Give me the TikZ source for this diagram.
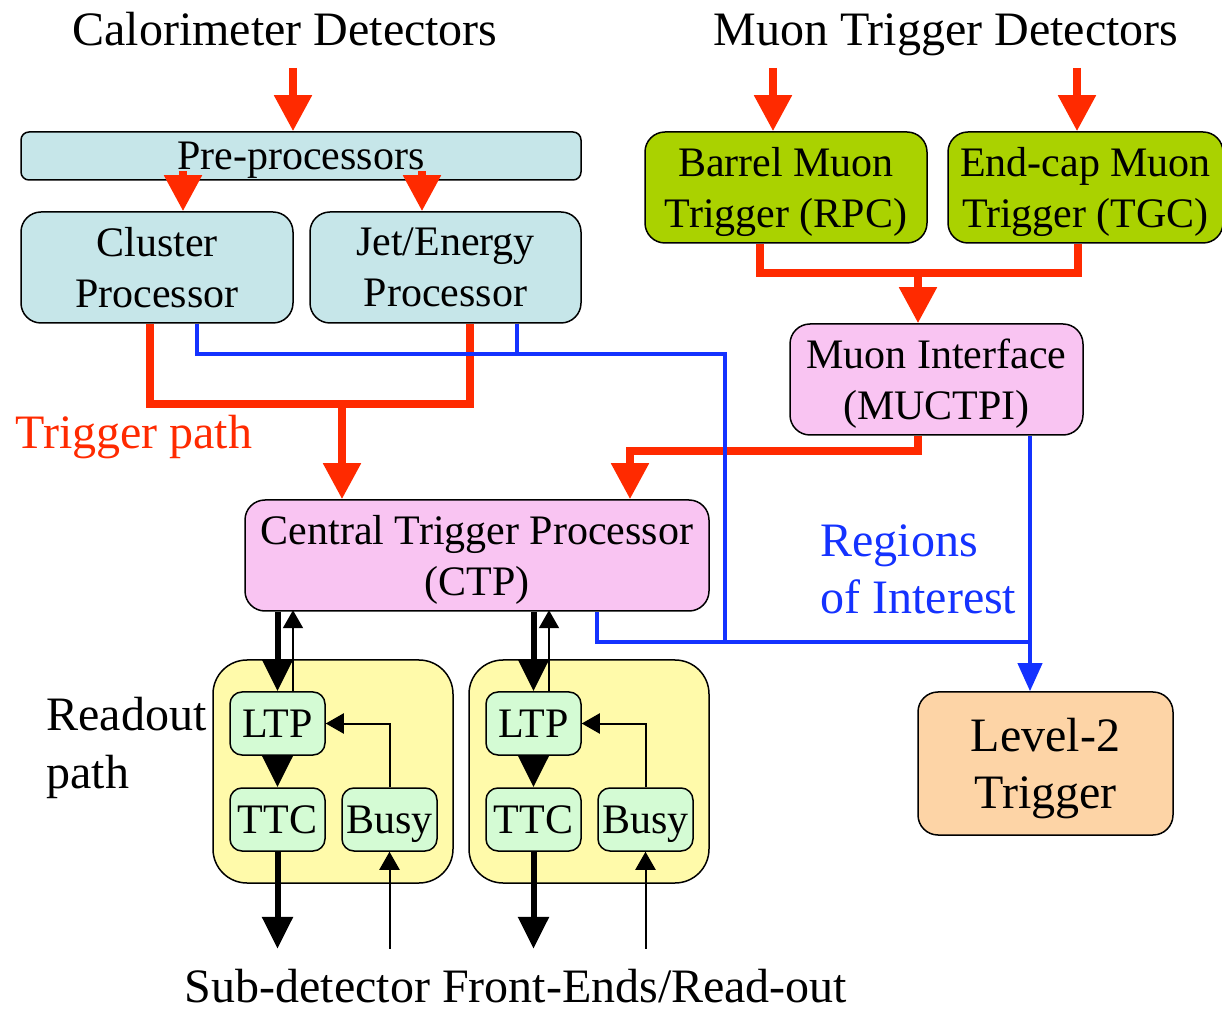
\documentclass[tikz,border=0pt]{standalone}
\usepackage{fontspec}
\setmainfont{Liberation Serif}
\usetikzlibrary{arrows.meta,calc}

\definecolor{trigred}{RGB}{255,42,0}
\definecolor{roiblue}{RGB}{20,50,255}
\definecolor{calofill}{RGB}{198,230,233}
\definecolor{muonfill}{RGB}{170,210,0}
\definecolor{ctpfill}{RGB}{249,196,242}
\definecolor{lvlfill}{RGB}{253,212,166}
\definecolor{partfill}{RGB}{255,250,170}
\definecolor{unitfill}{RGB}{212,251,212}

\newcommand{\boxfont}{\fontsize{21}{25.5}\selectfont}
\newcommand{\bigfont}{\fontsize{24}{28.5}\selectfont}

\begin{document}
\begin{tikzpicture}[x=0.5pt, y=-0.5pt,
    box/.style={draw, line width=0.75pt, rounded corners=10pt, inner sep=0pt,
                text depth=0pt, align=center, font=\boxfont},
    unit/.style={box, fill=unitfill, rounded corners=6pt,
                 minimum width=47.5pt, minimum height=31.5pt},
    txt/.style={font=\bigfont, inner sep=0pt},
    redline/.style={trigred, line width=4pt},
    redarr/.style={redline, -{Triangle[width=18pt,length=18pt]}},
    blueline/.style={roiblue, line width=2pt},
    bluearr/.style={blueline, -{Triangle[width=12pt,length=14pt]}},
    fatarr/.style={line width=3pt, -{Triangle[width=15pt,length=16pt]}},
    thinarr/.style={line width=1pt, -{Triangle[width=10pt,length=9pt]}}]
    \useasboundingbox (0,0) rectangle (1222,1010);

    % calorimeter side
    \node[box, fill=calofill, rounded corners=4pt, minimum width=280pt, minimum height=24pt] (pre) at (301,156) {Pre-processors};
    \node[box, fill=calofill, minimum width=136pt, minimum height=55.5pt] (clu) at (157,267.5) {Cluster\\Processor};
    \node[box, fill=calofill, minimum width=135.5pt, minimum height=55.5pt] (jet) at (445.5,267.5) {Jet/Energy\\Processor};

    % muon side
    \node[box, fill=muonfill, minimum width=141pt, minimum height=55.5pt] (brl) at (786,187.5) {Barrel Muon\\Trigger (RPC)};
    \node[box, fill=muonfill, minimum width=137.5pt, minimum height=55.5pt] (ecp) at (1085.5,187.5) {End-cap Muon\\Trigger (TGC)};
    \node[box, fill=ctpfill, minimum width=146.5pt, minimum height=55.5pt] (mui) at (936.5,379.5) {Muon Interface\\(MUCTPI)};

    \node[box, fill=ctpfill, minimum width=232pt, minimum height=55.5pt] (ctp) at (477,555.5) {Central Trigger Processor\\(CTP)};
    \node[box, fill=lvlfill, font=\bigfont, minimum width=127.5pt, minimum height=71.5pt] (lv2) at (1045.5,763.5) {Level-2\\Trigger};

    % partitions
    \node[box, fill=partfill, rounded corners=17pt, minimum width=120pt, minimum height=111.5pt] (partl) at (333,771.5) {};
    \node[box, fill=partfill, rounded corners=17pt, minimum width=120pt, minimum height=111.5pt] (partr) at (589,771.5) {};
    \node[unit] (ltpl) at (277.5,723.5) {LTP};
    \node[unit] (ttcl) at (277.5,819.5) {TTC};
    \node[unit] (bsyl) at (389.5,819.5) {Busy};
    \node[unit] (ltpr) at (533.5,723.5) {LTP};
    \node[unit] (ttcr) at (533.5,819.5) {TTC};
    \node[unit] (bsyr) at (645.5,819.5) {Busy};

    % labels
    \node[txt, anchor=base] (caltxt) at (285,46) {Calorimeter Detectors};
    \node[txt, anchor=base] (muontxt) at (946,46) {Muon Trigger Detectors};
    \node[txt, anchor=base west, text=trigred] (trigtxt) at (15,449) {Trigger path};
    \node[txt, anchor=base west, text=roiblue, align=left] (roitxt) at (820,614) {Regions\\of Interest};
    \node[txt, anchor=base west, align=left] (readtxt) at (46,788) {Readout\\path};
    \node[txt, anchor=base] (fetxt) at (516,1002) {Sub-detector Front-Ends/Read-out};

    \coordinate (calin) at (293,68);
    \coordinate (brlin) at (773,68);
    \coordinate (ecpin) at (1077,68);
    \coordinate (roijoin) at (725,354);
    \coordinate (roilow) at (725,643);

    % trigger path
    \draw[redarr] (calin) -- (calin |- pre.north);
    \draw[redarr] (brlin) -- (brlin |- brl.north);
    \draw[redarr] (ecpin) -- (ecpin |- ecp.north);
    \draw[redarr] ($(clu.north)+(26,-40)$) -- ($(clu.north)+(26,0)$);
    \draw[redarr] ($(jet.north)+(-23.5,-40)$) -- ($(jet.north)+(-23.5,0)$);
    \draw[redline] ($(brl.south)+(-26,0)$) -- ++(0,29) -| ($(ecp.south)+(-7.5,0)$);
    \draw[redarr] ($(mui.north)+(-18.5,-52)$) -- ($(mui.north)+(-18.5,0)$);
    \draw[redline] ($(clu.south)+(-7,0)$) |- ($(jet.south)+(24.5,80)$) -- ($(jet.south)+(24.5,0)$);
    \draw[redarr] ($(ctp.north)+(-135,-97)$) -- ($(ctp.north)+(-135,0)$);
    \draw[redarr] ($(mui.south)+(-18.5,0)$) |- ($(ctp.north)+(153,-48)$) -- ($(ctp.north)+(153,0)$);

    % regions of interest
    \draw[blueline] ($(clu.south)+(40,0)$) |- (roijoin) -- (roilow);
    \draw[blueline] ($(jet.south)+(71.5,0)$) -- ++(0,31);
    \draw[blueline] ($(ctp.south)+(120,0)$) |- ($(lv2.north)+(-15.5,-49)$);
    \draw[bluearr] ($(mui.south)+(93.5,0)$) -- ($(lv2.north)+(-15.5,0)$);

    % readout path
    \draw[fatarr] (ltpl.north |- ctp.south) -- (ltpl.north);
    \draw[thinarr] ($(ltpl.north)+(15.5,0)$) -- ++(0,-81);
    \draw[fatarr] (ltpl.south) -- (ttcl.north);
    \draw[thinarr] (bsyl.north) |- (ltpl.east);
    \draw[fatarr] (ttcl.south) -- ++(0,97);
    \draw[thinarr] ($(bsyl.south)+(0,97)$) -- (bsyl.south);

    \draw[fatarr] (ltpr.north |- ctp.south) -- (ltpr.north);
    \draw[thinarr] ($(ltpr.north)+(15.5,0)$) -- ++(0,-81);
    \draw[fatarr] (ltpr.south) -- (ttcr.north);
    \draw[thinarr] (bsyr.north) |- (ltpr.east);
    \draw[fatarr] (ttcr.south) -- ++(0,97);
    \draw[thinarr] ($(bsyr.south)+(0,97)$) -- (bsyr.south);
\end{tikzpicture}
\end{document}
